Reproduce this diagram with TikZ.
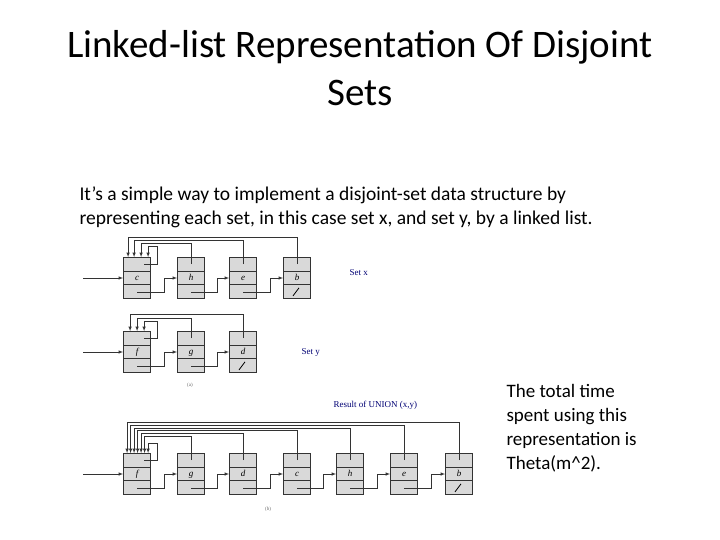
\documentclass[tikz,border=0pt]{standalone}
\usepackage{fontspec}
\setmainfont{Carlito}
\newfontfamily\serifx{Liberation Serif}
\usetikzlibrary{calc}
\begin{document}
\begin{tikzpicture}[x=1pt,y=-1pt,
  cell/.style={draw=black!80,fill=black!15,line width=0.8pt,minimum width=27pt,minimum height=41pt,inner sep=0pt,text height=6pt,text depth=1pt,font=\serifx\itshape\small},
  rows/.style={draw=black!80,line width=0.8pt},
  ptr/.style={->,>=latex,line width=0.6pt,black!80},
  lab/.style={font=\serifx\small,text=blue!45!black,anchor=west}]
\useasboundingbox (0,0) rectangle (720,540);
\node[font=\fontsize{39}{48}\selectfont,align=center] (title) at (360,68) {Linked-list Representation Of Disjoint\\Sets};
\node[font=\fontsize{19.5}{24}\selectfont,align=left,anchor=north west] (para) at (76,183) {It’s a simple way to implement a disjoint-set data structure by\\representing each set, in this case set x, and set y, by a linked list.};
\node[font=\fontsize{19}{24}\selectfont,align=left,anchor=north west] (tt) at (503,381) {The total time\\spent using this\\representation is\\Theta(m\textasciicircum2).};
% Set x
\node[cell] (xc) at (137,278) {c};
\node[cell] (xh) at (191,278) {h};
\node[cell] (xe) at (243,278) {e};
\node[cell] (xb) at (297,278) {b};
\node[lab] (lx) at (346,273) {Set x};
\coordinate (hx) at (83,278);
\draw[ptr] (hx) -- (xc.west);
\foreach \a/\b in {xc/xh,xh/xe,xe/xb}{\draw[ptr] ($(\a.south)+(0,-7)$) -| ($(\a.east)!0.5!(\b.west)$) -- (\b.west);}
\draw[line width=0.8pt] ($(xb.south)+(-4,-3)$) -- ++(6,-8);
\draw[ptr] ($(xb.north)+(0,7)$) |- ($(xc.north west)+(5,-20)$) -- ($(xc.north west)+(5,0)$);
\draw[ptr] ($(xe.north)+(0,7)$) |- ($(xc.north west)+(11,-17)$) -- ($(xc.north west)+(11,0)$);
\draw[ptr] ($(xh.north)+(0,7)$) |- ($(xc.north west)+(18,-14)$) -- ($(xc.north west)+(18,0)$);
\draw[ptr] ($(xc.north)+(7,7)$) -- ++(13,0) |- ($(xc.north west)+(25,-11)$) -- ($(xc.north west)+(25,0)$);
% Set y
\node[cell] (yf) at (137,352) {f};
\node[cell] (yg) at (191,352) {g};
\node[cell] (yd) at (243,352) {d};
\node[lab] (ly) at (298,352) {Set y};
\coordinate (hy) at (83,352);
\draw[ptr] (hy) -- (yf.west);
\foreach \a/\b in {yf/yg,yg/yd}{\draw[ptr] ($(\a.south)+(0,-7)$) -| ($(\a.east)!0.5!(\b.west)$) -- (\b.west);}
\draw[line width=0.8pt] ($(yd.south)+(-4,-3)$) -- ++(6,-8);
\draw[ptr] ($(yd.north)+(0,7)$) |- ($(yf.north west)+(7,-17)$) -- ($(yf.north west)+(7,0)$);
\draw[ptr] ($(yg.north)+(0,7)$) |- ($(yf.north west)+(14,-13)$) -- ($(yf.north west)+(14,0)$);
\draw[ptr] ($(yf.north)+(7,7)$) -- ++(13,0) |- ($(yf.north west)+(21,-10)$) -- ($(yf.north west)+(21,0)$);
\node[font=\serifx\tiny,text=black!60] (la) at (190,385) {(a)};
% Union
\node[lab] (lu) at (330,405) {Result of UNION (x,y)};
\node[cell] (uf) at (137,474) {f};
\node[cell] (ug) at (191,474) {g};
\node[cell] (ud) at (243,474) {d};
\node[cell] (uc) at (297,474) {c};
\node[cell] (uh) at (350,474) {h};
\node[cell] (ue) at (404,474) {e};
\node[cell] (ub) at (459,474) {b};
\foreach \n in {xc,xh,xe,xb,yf,yg,yd,uf,ug,ud,uc,uh,ue,ub}{
  \draw[rows] ($(\n.west)+(0,-6.8)$) -- ($(\n.east)+(0,-6.8)$);
  \draw[rows] ($(\n.west)+(0,6.8)$) -- ($(\n.east)+(0,6.8)$);}
\coordinate (hu) at (83,474);
\draw[ptr] (hu) -- (uf.west);
\foreach \a/\b in {uf/ug,ug/ud,ud/uc,uc/uh,uh/ue,ue/ub}{\draw[ptr] ($(\a.south)+(0,-7)$) -| ($(\a.east)!0.5!(\b.west)$) -- (\b.west);}
\draw[line width=0.8pt] ($(ub.south)+(-4,-3)$) -- ++(6,-8);
\foreach \n/\dx/\lv in {ub/4/31,ue/7.5/28,uh/11/25,uc/14.5/23,ud/18/20,ug/21.5/17}{
  \draw[ptr] ($(\n.north)+(0,7)$) |- ($(uf.north west)+(\dx,-\lv)$) -- ($(uf.north west)+(\dx,0)$);}
\draw[ptr] ($(uf.north)+(7,7)$) -- ++(13,0) |- ($(uf.north west)+(25,-10)$) -- ($(uf.north west)+(25,0)$);
\node[font=\serifx\tiny,text=black!60] (lb) at (268,509) {(b)};
\end{tikzpicture}
\end{document}
